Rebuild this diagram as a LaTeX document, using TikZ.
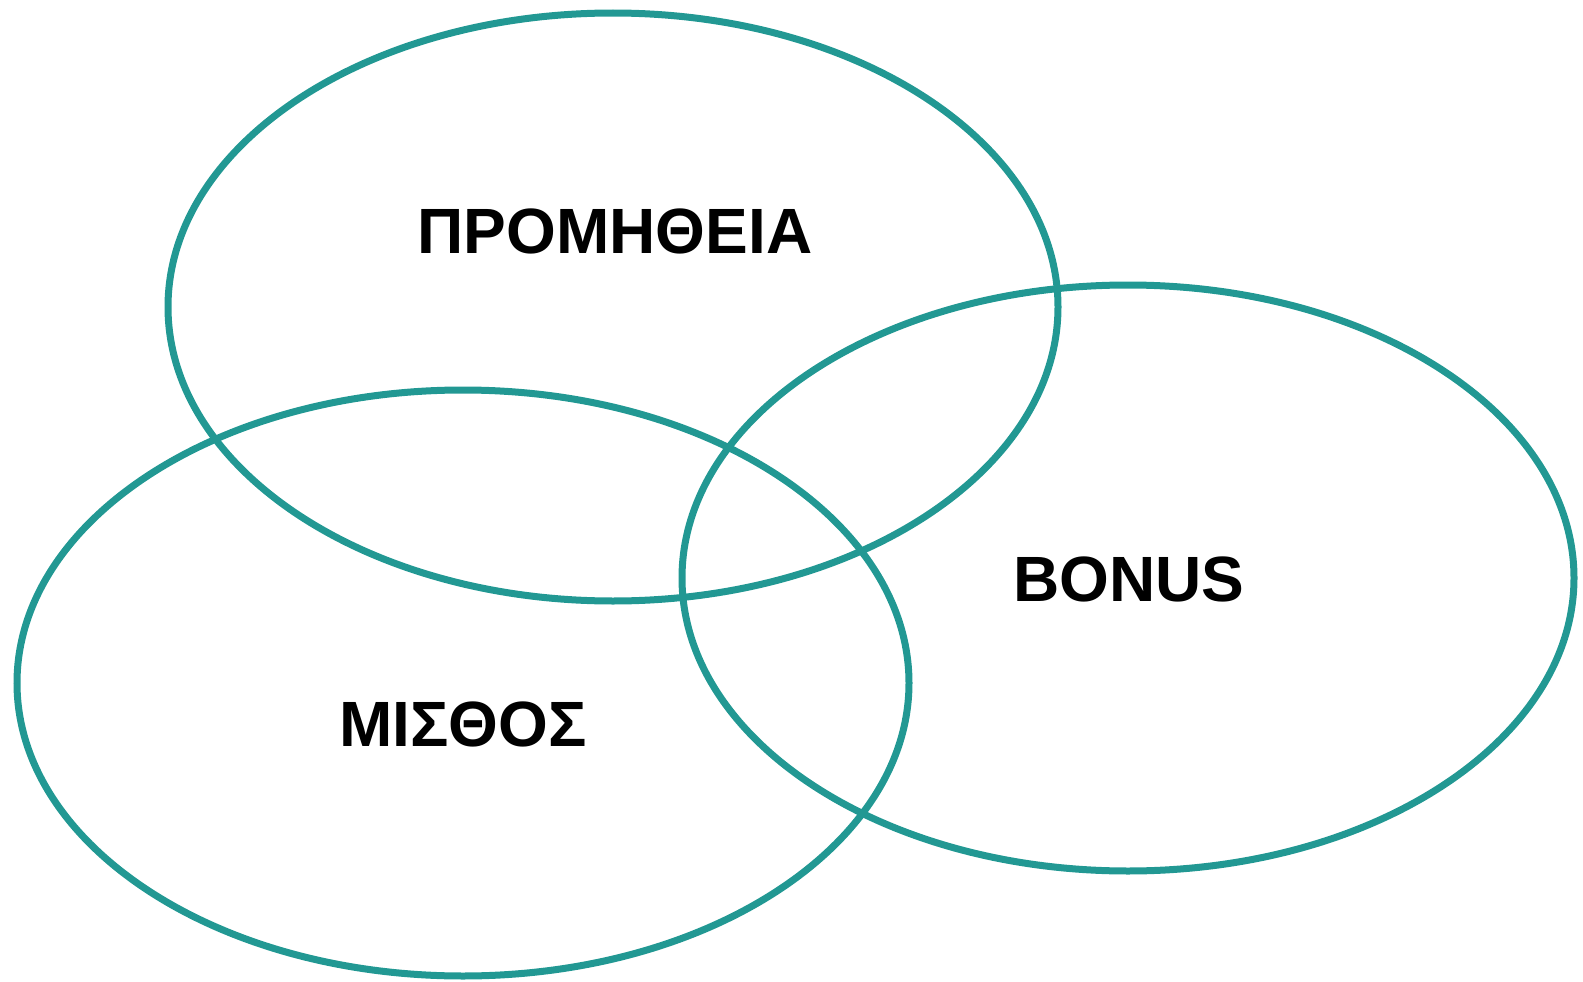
\documentclass[tikz,border=0pt]{standalone}
\usepackage{fontspec}
\setmainfont{Liberation Sans}
\definecolor{ringteal}{HTML}{229893}
\begin{document}
\begin{tikzpicture}[x=1pt,y=-1pt,
  ring/.style={draw=ringteal,line width=7pt},
  label/.style={font=\fontsize{64}{70}\selectfont\bfseries,text=black,inner sep=0pt,anchor=base}]
\useasboundingbox (0,0) rectangle (1583,982);
% three overlapping sets
\draw[ring] (613,307) ellipse [x radius=445, y radius=294];
\draw[ring] (463,683) ellipse [x radius=446, y radius=293];
\draw[ring] (1128,578) ellipse [x radius=446, y radius=293];
% set names
\node[label] (promitheia) at (615,253) {ΠΡΟΜΗΘΕΙΑ};
\node[label] (bonus) at (1129,601) {BONUS};
\node[label] (misthos) at (463,746) {ΜΙΣΘΟΣ};
\end{tikzpicture}
\end{document}
